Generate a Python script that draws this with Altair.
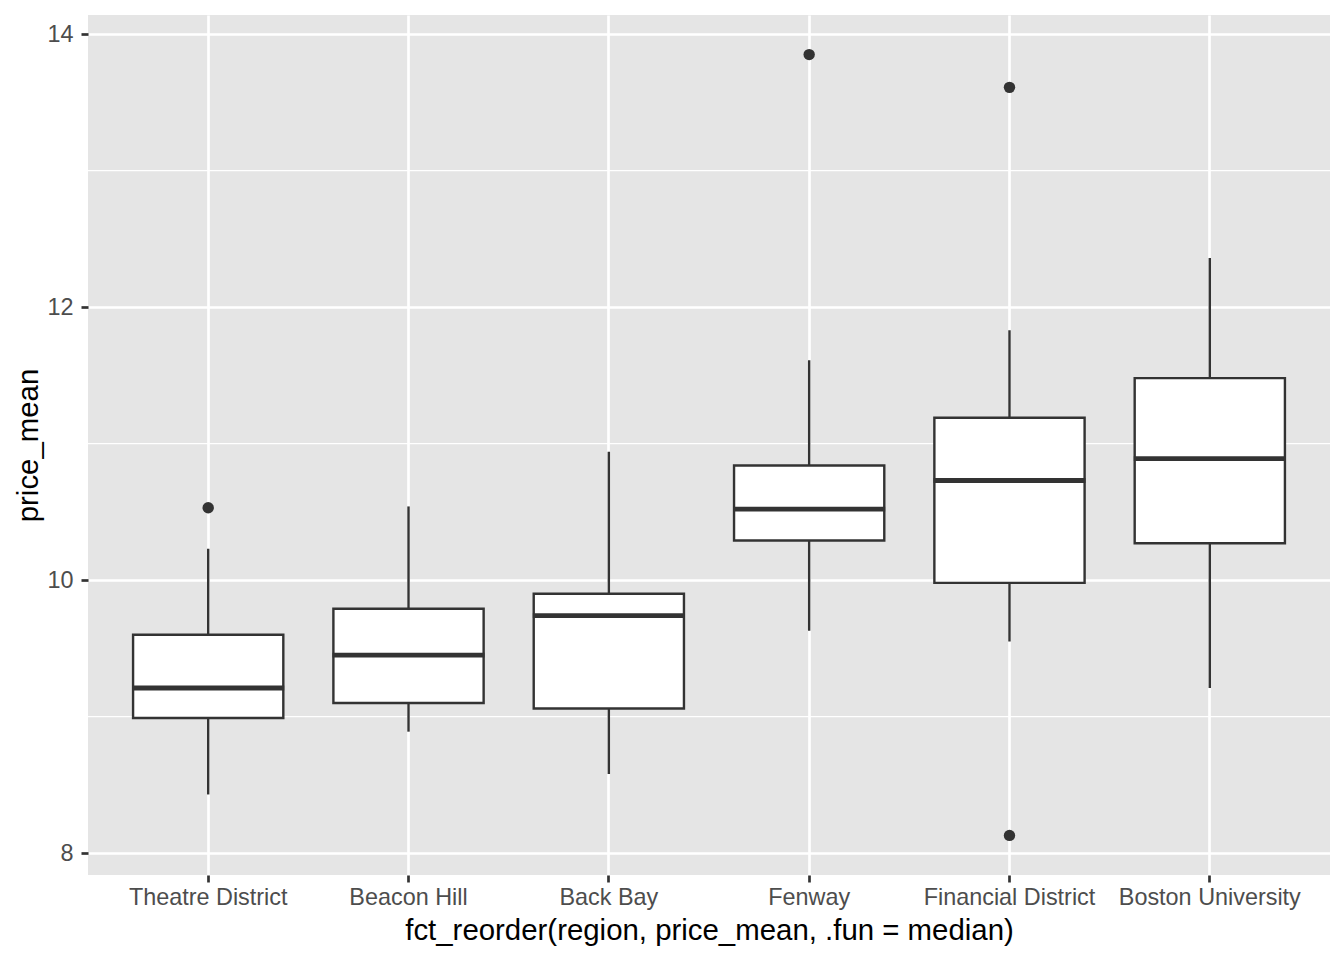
import altair as alt
import pandas as pd

regions = ["Theatre District", "Beacon Hill", "Back Bay", "Fenway",
           "Financial District", "Boston University"]
lower = [8.43, 8.89, 8.58, 9.63, 9.55, 9.21]
q1 = [8.99, 9.10, 9.06, 10.29, 9.98, 10.27]
median = [9.21, 9.45, 9.74, 10.52, 10.73, 10.89]
q3 = [9.60, 9.79, 9.90, 10.84, 11.19, 11.48]
upper = [10.23, 10.54, 10.94, 11.61, 11.83, 12.36]

outlier_region = ["Theatre District", "Fenway", "Financial District", "Financial District"]
outlier_value = [10.53, 13.85, 13.61, 8.13]

major_ticks = [8, 10, 12, 14]
minor_ticks = [9, 11, 13]

stats = pd.DataFrame({"region": regions, "lower": lower, "q1": q1,
                      "median": median, "q3": q3, "upper": upper})
outs = pd.DataFrame({"region": outlier_region, "value": outlier_value})
minor = pd.DataFrame({"v": minor_ticks})

FONT = "Liberation Sans"
DARK = "#333333"

xscale = alt.Scale(domain=regions, paddingInner=0.25, paddingOuter=0.225)
yscale = alt.Scale(domain=[7.84, 14.14], nice=False, zero=False)

x_enc = alt.X("region:N", scale=xscale, sort=regions,
              title="fct_reorder(region, price_mean, .fun = median)",
              axis=alt.Axis(grid=True, bandPosition=0.5, labelAngle=0, labelLimit=400))

minor_grid = alt.Chart(minor).mark_rule(color="white", strokeWidth=1.3).encode(
    y=alt.Y("v:Q", scale=yscale)
)

whisk = alt.Chart(stats).mark_rule(color=DARK, strokeWidth=2.4).encode(
    x=x_enc,
    y=alt.Y("lower:Q", scale=yscale, title="price_mean",
            axis=alt.Axis(values=major_ticks, grid=True, format="d")),
    y2="upper:Q",
)

box = alt.Chart(stats).mark_bar(fill="white", stroke=DARK, strokeWidth=2.4).encode(
    x=x_enc,
    y=alt.Y("q1:Q", scale=yscale),
    y2="q3:Q",
)

med = alt.Chart(stats).mark_tick(color=DARK, thickness=4.8, size=152, opacity=1).encode(
    x=x_enc,
    y=alt.Y("median:Q", scale=yscale),
)

pts = alt.Chart(outs).mark_circle(color=DARK, size=130, opacity=1).encode(
    x=x_enc,
    y=alt.Y("value:Q", scale=yscale),
)

chart = alt.layer(minor_grid, whisk, box, med, pts).properties(
    width=1242, height=860,
    autosize=alt.AutoSizeParams(type="none"),
    padding={"left": 80, "top": 7, "right": 6, "bottom": 77},
    background="white",
).configure_view(
    fill="#E5E5E5", stroke=None
).configure_axis(
    domain=False,
    gridColor="white", gridWidth=2.7,
    tickColor=DARK, tickWidth=2.7, tickSize=7,
    labelFont=FONT, labelFontSize=23.4, labelColor="#4D4D4D", labelLimit=400,
    titleFont=FONT, titleFontSize=29.4, titleColor="black", titleFontWeight="normal",
).configure_axisX(
    labelPadding=4, titlePadding=8
).configure_axisY(
    labelPadding=8, titlePadding=3
)

chart.save("out.html", embed_options={"renderer": "svg", "actions": False})
